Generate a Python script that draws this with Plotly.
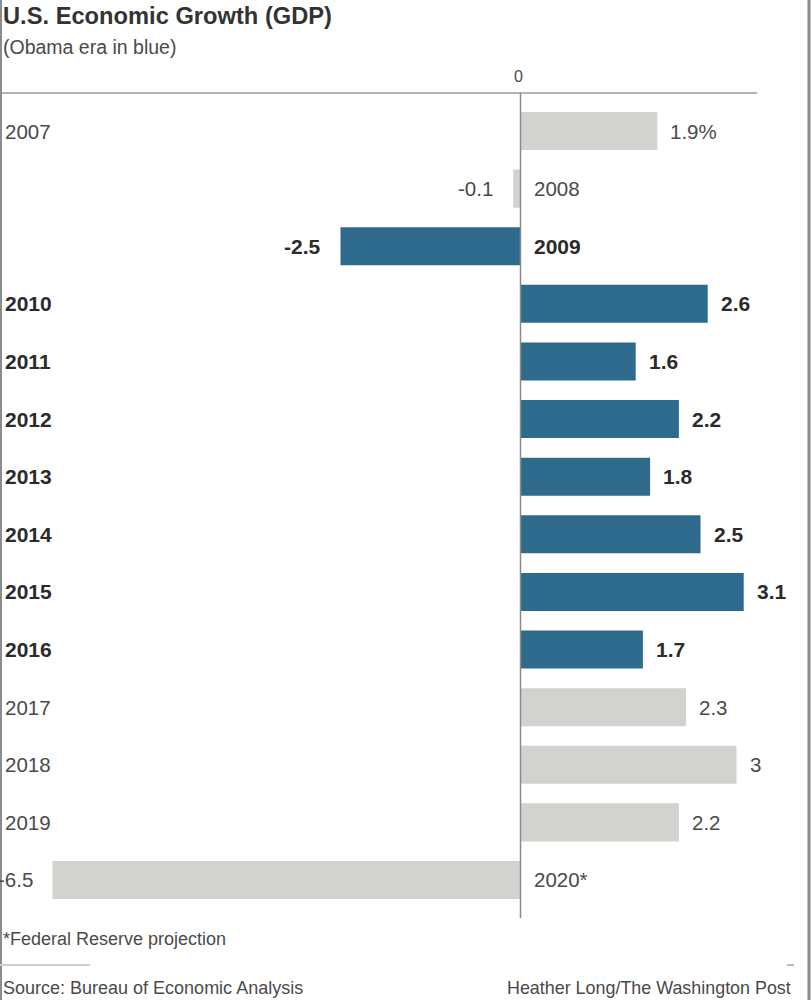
import plotly.graph_objects as go

# ---- data ----
years = ["2007", "2008", "2009", "2010", "2011", "2012", "2013",
         "2014", "2015", "2016", "2017", "2018", "2019", "2020*"]
growth = [1.9, -0.1, -2.5, 2.6, 1.6, 2.2, 1.8, 2.5, 3.1, 1.7, 2.3, 3, 2.2, -6.5]
value_labels = ["1.9%", "-0.1", "-2.5", "2.6", "1.6", "2.2", "1.8",
                "2.5", "3.1", "1.7", "2.3", "3", "2.2", "-6.5"]
obama_era = [False, False, True, True, True, True, True,
             True, True, True, False, False, False, False]

title = "U.S. Economic Growth (GDP)"
subtitle = "(Obama era in blue)"
footnote = "*Federal Reserve projection"
source = "Source: Bureau of Economic Analysis"
credit = "Heather Long/The Washington Post"

# ---- style ----
W, H = 811, 1000
TOP, BOTTOM = 93, 918
BLUE = "#2e6a8c"
GRAY = "#d2d2cf"
DARK = "#2b2b2b"
MID = "#4a4a4a"
FONT = "Liberation Sans, Arial, sans-serif"

zero_px = 520.5
px_per_unit = 72.0
x_range = [-zero_px / px_per_unit, (W - zero_px) / px_per_unit]


def py(pix):
    return (BOTTOM - pix) / (BOTTOM - TOP)


colors = [BLUE if o else GRAY for o in obama_era]

fig = go.Figure(go.Bar(
    y=years, x=growth, orientation="h",
    marker=dict(color=colors, line=dict(width=0)),
    hoverinfo="skip",
))

ann = []
for i, (yr, v, lab, o) in enumerate(zip(years, growth, value_labels, obama_era)):
    col = DARK if o else MID
    weight = "bold" if o else "normal"
    f = dict(size=21 if o else 20.5, color=col, family=FONT, weight=weight)
    if v >= 0:
        ann.append(dict(x=0, xref="paper", y=i, yref="y", text=yr,
                        xanchor="left", xshift=3, showarrow=False, font=f))
        ann.append(dict(x=v, xref="x", y=i, yref="y", text=lab,
                        xanchor="left", xshift=11, showarrow=False, font=f))
    else:
        ann.append(dict(x=0, xref="x", y=i, yref="y", text=yr,
                        xanchor="left", xshift=11, showarrow=False, font=f))
        ann.append(dict(x=v, xref="x", y=i, yref="y", text=lab,
                        xanchor="right", xshift=-18, showarrow=False, font=f))

# titles and notes
ann += [
    dict(x=0, xref="paper", y=py(16), yref="paper", text=title, xanchor="left",
         yanchor="middle", xshift=1, showarrow=False,
         font=dict(size=23.7, color="#333333", family=FONT, weight="bold")),
    dict(x=0, xref="paper", y=py(47), yref="paper", text=subtitle, xanchor="left",
         yanchor="middle", xshift=1, showarrow=False,
         font=dict(size=19.5, color=MID, family=FONT)),
    dict(x=0, xref="x", y=py(76), yref="paper", text="0", xanchor="center",
         yanchor="middle", xshift=-2, showarrow=False,
         font=dict(size=16, color=MID, family=FONT)),
    dict(x=0, xref="paper", y=py(939), yref="paper", text=footnote, xanchor="left",
         yanchor="middle", xshift=1, showarrow=False,
         font=dict(size=18, color=MID, family=FONT)),
    dict(x=0, xref="paper", y=py(988), yref="paper", text=source, xanchor="left",
         yanchor="middle", xshift=1, showarrow=False,
         font=dict(size=18, color=MID, family=FONT)),
    dict(x=1, xref="paper", y=py(988), yref="paper", text=credit, xanchor="right",
         yanchor="middle", xshift=-18, showarrow=False,
         font=dict(size=17.9, color=MID, family=FONT)),
]

shapes = [
    dict(type="line", xref="paper", yref="paper", x0=0, x1=757 / W, y0=1, y1=1,
         line=dict(color="#9a9a9a", width=1.5)),
    dict(type="line", xref="x", yref="paper", x0=0, x1=0, y0=0, y1=1,
         line=dict(color="#8a8a8a", width=1.5)),
    dict(type="line", xref="paper", yref="paper", x0=1 / W, x1=1 / W, y0=py(0), y1=py(H),
         line=dict(color="#8c8c8c", width=2)),
    dict(type="line", xref="paper", yref="paper", x0=809 / W, x1=809 / W, y0=py(0), y1=py(H),
         line=dict(color="#8c8c8c", width=3)),
    dict(type="line", xref="paper", yref="paper", x0=0, x1=90 / W, y0=py(965), y1=py(965),
         line=dict(color="#cfcfcf", width=2)),
    dict(type="line", xref="paper", yref="paper", x0=787 / W, x1=794 / W, y0=py(965), y1=py(965),
         line=dict(color="#777777", width=1)),
]

fig.update_layout(
    width=W, height=H,
    margin=dict(l=0, r=0, t=TOP, b=H - BOTTOM, pad=0),
    paper_bgcolor="white", plot_bgcolor="white",
    bargap=0.34,
    showlegend=False,
    xaxis=dict(range=x_range, showgrid=False, zeroline=False, showticklabels=False,
               ticks="", fixedrange=True),
    yaxis=dict(type="category", categoryorder="array", categoryarray=years,
               range=[len(years) - 1 + 0.66, -0.66], showgrid=False, zeroline=False,
               showticklabels=False, ticks="", fixedrange=True),
    annotations=ann,
    shapes=shapes,
)

fig.write_html("out.html", config={"displayModeBar": False},
               post_script="document.body.style.margin='0';document.body.style.overflow='hidden';")
